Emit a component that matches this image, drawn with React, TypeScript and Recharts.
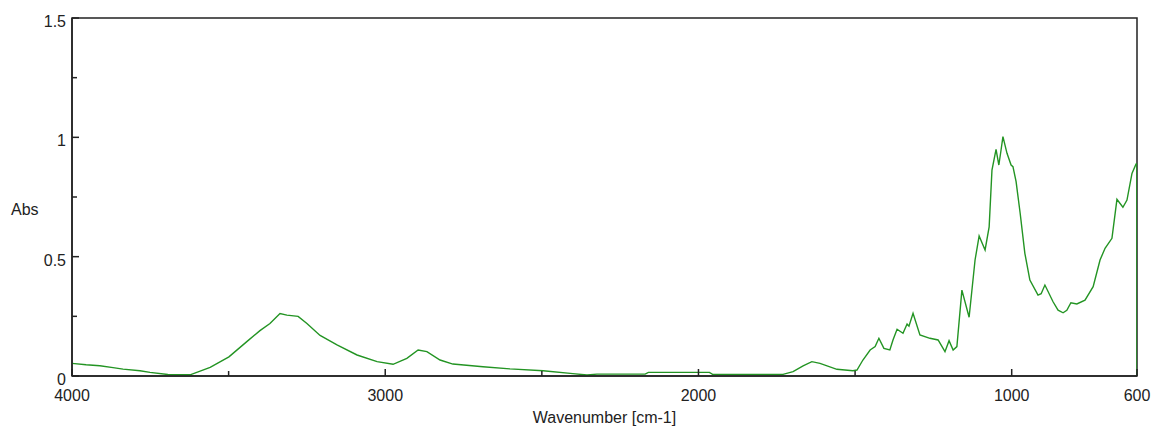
import React from 'react';
import { LineChart, Line, XAxis, YAxis, ReferenceArea, Label } from 'recharts';

const wavenumbers = [
  4000, 3955, 3911, 3869, 3837, 3783, 3751, 3694, 3623, 3559, 3499, 3441, 3400, 3368, 3336, 3314,
  3278, 3250, 3208, 3154, 3090, 3026, 2975, 2931, 2895, 2867, 2825, 2784, 2688, 2602, 2496, 2401,
  2356, 2324, 2170, 2160, 1965, 1955, 1730, 1698, 1666, 1638, 1612, 1558, 1507, 1494, 1475, 1452,
  1436, 1424, 1408, 1389, 1379, 1366, 1347, 1334, 1328, 1315, 1293, 1261, 1235, 1213, 1200, 1187,
  1175, 1159, 1136, 1117, 1104, 1085, 1072, 1063, 1050, 1041, 1034, 1028, 1015, 1002, 996, 986,
  973, 958, 942, 916, 906, 894, 868, 852, 836, 824, 811, 792, 766, 740, 718, 702,
  680, 664, 645, 632, 616, 603, 600.5, 600,
];

const absorbance = [
  0.053, 0.047, 0.043, 0.035, 0.029, 0.022, 0.015, 0.006, 0.005, 0.036, 0.08, 0.145, 0.19, 0.22, 0.262, 0.255,
  0.25, 0.22, 0.17, 0.13, 0.088, 0.06, 0.049, 0.074, 0.109, 0.102, 0.067, 0.05, 0.039, 0.03, 0.022, 0.01,
  0.004, 0.008, 0.008, 0.015, 0.015, 0.007, 0.007, 0.018, 0.042, 0.06, 0.053, 0.028, 0.022, 0.025, 0.067, 0.109,
  0.123, 0.158, 0.116, 0.109, 0.151, 0.196, 0.179, 0.218, 0.209, 0.263, 0.172, 0.158, 0.151, 0.102, 0.148, 0.109,
  0.123, 0.36, 0.246, 0.486, 0.587, 0.528, 0.625, 0.863, 0.95, 0.884, 0.947, 1.003, 0.933, 0.884, 0.877, 0.814,
  0.682, 0.514, 0.402, 0.339, 0.345, 0.381, 0.311, 0.276, 0.265, 0.275, 0.307, 0.302, 0.318, 0.374, 0.486, 0.535,
  0.577, 0.74, 0.707, 0.737, 0.849, 0.888, 0.89, 0,
];

const xTicks = [4000, 3500, 3000, 2500, 2000, 1500, 1000, 600];
const xMajorTicks = [4000, 3000, 2000, 1000, 600];
const yTicks = [0, 0.25, 0.5, 0.75, 1, 1.25, 1.5];
const yMajorTicks = [0, 0.5, 1, 1.5];

const data = wavenumbers.map((wn, i) => ({ wn, abs: absorbance[i] }));

const FONT = "'Liberation Sans', Arial, sans-serif";
const AXIS = '#222';

const XTick = (props: any) => {
  const { x, y, payload } = props;
  const major = xMajorTicks.includes(payload.value);
  return (
    <g>
      <line x1={x} x2={x} y1={y} y2={y - (major ? 7 : 5)} stroke={AXIS} strokeWidth={1.5} />
      {major && (
        <text x={x} y={y + 25} textAnchor="middle" fontFamily={FONT} fontSize={16} fill={AXIS}>
          {payload.value}
        </text>
      )}
    </g>
  );
};

const YTick = (props: any) => {
  const { x, y, payload } = props;
  const major = yMajorTicks.includes(payload.value);
  return (
    <g>
      <line x1={x} x2={x + (major ? 7 : 5)} y1={y} y2={y} stroke={AXIS} strokeWidth={1.5} />
      {major && (
        <text x={x - 6} y={y + 9} textAnchor="end" fontFamily={FONT} fontSize={16} fill={AXIS}>
          {payload.value}
        </text>
      )}
    </g>
  );
};

export default function App() {
  return (
    <div style={{ position: 'absolute', left: 0, top: 0, width: 1152, height: 430, background: '#fff' }}>
      <LineChart width={1152} height={430} data={data} margin={{ top: 18, right: 15, left: 0, bottom: 0 }}>
        <XAxis
          dataKey="wn"
          type="number"
          domain={[600, 4000]}
          reversed
          ticks={xTicks}
          interval={0}
          tickSize={0}
          tickMargin={0}
          tickLine={false}
          tick={<XTick />}
          height={54}
          axisLine={{ stroke: AXIS, strokeWidth: 1.5 }}
          allowDataOverflow
        >
          <Label
            content={(p: any) => {
              const vb = p.viewBox;
              return (
                <text x={vb.x + vb.width / 2} y={vb.y + 47} textAnchor="middle" fontFamily={FONT} fontSize={16} fill={AXIS}>
                  Wavenumber [cm-1]
                </text>
              );
            }}
          />
        </XAxis>
        <YAxis
          type="number"
          domain={[0, 1.5]}
          ticks={yTicks}
          interval={0}
          tickSize={0}
          tickMargin={0}
          tickLine={false}
          tick={<YTick />}
          width={72}
          axisLine={{ stroke: AXIS, strokeWidth: 1.5 }}
          allowDataOverflow
        >
          <Label
            content={() => (
              <text x={11} y={215} textAnchor="start" fontFamily={FONT} fontSize={16} fill={AXIS}>
                Abs
              </text>
            )}
          />
        </YAxis>
        <ReferenceArea x1={4000} x2={600} y1={0} y2={1.5} fill="none" stroke={AXIS} strokeWidth={1.5} fillOpacity={0} />
        <Line
          type="linear"
          dataKey="abs"
          stroke="#239423"
          strokeWidth={1.4}
          dot={false}
          isAnimationActive={false}
        />
      </LineChart>
    </div>
  );
}
